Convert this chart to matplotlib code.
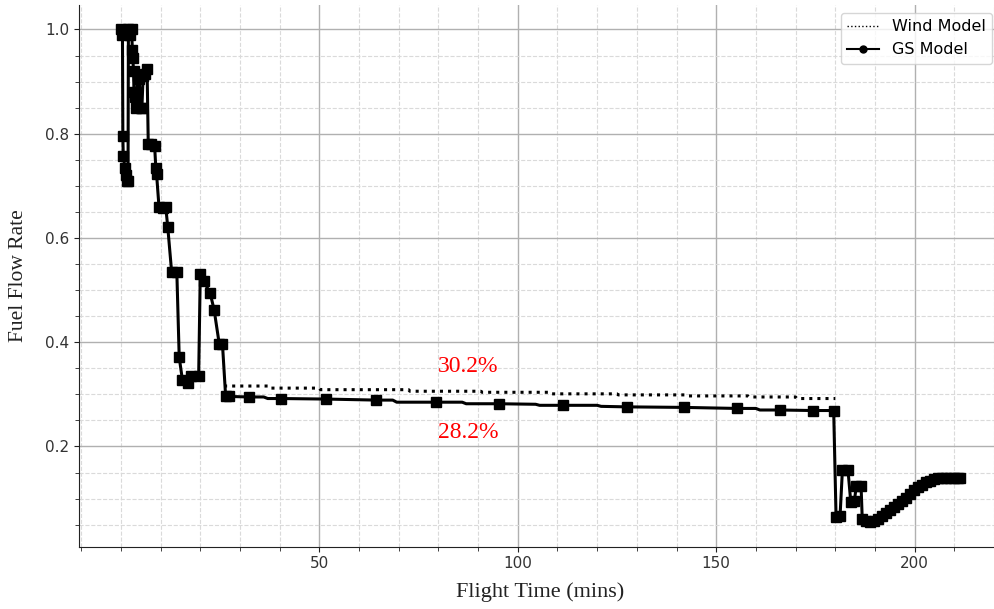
import matplotlib
matplotlib.use("Agg")
import matplotlib.pyplot as plt
from matplotlib.lines import Line2D
from matplotlib.ticker import MultipleLocator, FixedLocator

# ground-speed model: flight time (mins) vs normalised fuel flow
gs_time = [0.0, 0.4, 0.5, 0.6, 1.0, 1.3, 1.6, 1.8, 1.9, 2.4, 2.7, 2.9, 3.0, 3.2,
           3.3, 3.6, 3.8, 4.2, 4.6, 5.0, 5.3, 5.6, 6.0, 6.6, 6.9, 7.5, 8.5, 8.8,
           9.0, 9.6, 10.5, 11.3, 11.8, 12.8, 14.1, 14.7, 15.5, 16.8, 17.6, 19.6,
           20.0, 20.9, 22.5, 23.5, 24.8, 25.6, 26.4, 27.2,
           32.3, 36.0, 37.0, 40.4, 51.6, 64.4, 68.5, 69.5, 79.3, 86.0, 87.0,
           95.2, 104.5, 105.5, 111.4, 120.0, 121.0, 127.5, 141.8, 155.2, 160.0,
           161.0, 166.0, 174.3, 179.6,
           180.2, 181.2, 181.8, 183.2, 183.9, 184.8, 185.3, 186.5, 186.8, 187.8,
           188.8, 189.8, 190.8, 191.8, 192.8, 193.8, 194.8, 195.8, 196.8, 197.8,
           198.8, 199.8, 200.8, 201.8, 202.8, 203.8, 204.8, 205.8, 206.8, 207.8,
           208.8, 209.8, 210.8, 211.5]
gs_rate = [1.00, 0.99, 0.795, 0.757, 0.735, 0.72, 0.71, 0.71, 1.00, 0.99, 1.00,
           0.96, 0.945, 0.92, 0.88, 0.87, 0.85, 0.91, 0.905, 0.85, 0.85, 0.91,
           0.915, 0.925, 0.78, 0.78, 0.777, 0.735, 0.722, 0.66, 0.658, 0.66,
           0.622, 0.534, 0.534, 0.371, 0.328, 0.322, 0.336, 0.335, 0.53, 0.517,
           0.494, 0.462, 0.396, 0.396, 0.296, 0.296,
           0.295, 0.295, 0.292, 0.292, 0.291, 0.289, 0.289, 0.285, 0.285, 0.285,
           0.282, 0.282, 0.281, 0.279, 0.279, 0.279, 0.277, 0.276, 0.275, 0.273,
           0.273, 0.270, 0.270, 0.269, 0.269,
           0.065, 0.066, 0.155, 0.155, 0.094, 0.095, 0.124, 0.124, 0.060, 0.057,
           0.055, 0.057, 0.061, 0.066, 0.072, 0.078, 0.084, 0.090, 0.096, 0.102,
           0.109, 0.116, 0.122, 0.127, 0.131, 0.134, 0.137, 0.139, 0.140, 0.140,
           0.140, 0.140, 0.140, 0.140]
# cruise points that only shape the line (no square drawn)
gs_plain = [49, 50, 54, 55, 57, 58, 60, 61, 63, 64, 68, 69]

# wind model, only separates from the GS curve in cruise
wind_time = [26.0, 37.0, 37.3, 50.0, 50.3, 72.5, 72.8, 90.7, 91.0, 108.3,
             108.6, 125.0, 125.3, 142.0, 142.3, 158.0, 158.3, 170.0, 170.3, 180.0]
wind_rate = [0.316, 0.316, 0.312, 0.312, 0.309, 0.309, 0.306, 0.306, 0.304,
             0.304, 0.301, 0.301, 0.299, 0.299, 0.297, 0.297, 0.295, 0.295,
             0.292, 0.292]

fig = plt.figure(figsize=(9.95, 6.09), dpi=100)
ax = fig.add_axes([0.0794, 0.1023, 0.926, 0.8895])

marks = [i for i in range(len(gs_time)) if i not in gs_plain]
ax.plot(wind_time, wind_rate, color="black", linestyle=":", linewidth=2.2, zorder=3)
ax.plot(gs_time, gs_rate, color="black", linewidth=2.2, marker="s",
        markersize=7, markevery=marks, zorder=4)

ax.set_xlim(-10.55, 221.6)
ax.set_ylim(0.00775, 1.047)
ax.xaxis.set_major_locator(FixedLocator([50, 100, 150, 200]))
ax.xaxis.set_minor_locator(MultipleLocator(10))
ax.yaxis.set_major_locator(FixedLocator([0.2, 0.4, 0.6, 0.8, 1.0]))
ax.yaxis.set_minor_locator(MultipleLocator(0.05))

ax.grid(which="major", color="#b0b0b0", linewidth=1.0)
ax.grid(which="minor", color="#dadada", linestyle="--", linewidth=0.8)
ax.set_axisbelow(True)

for side in ("top", "right"):
    ax.spines[side].set_visible(False)
for side in ("left", "bottom"):
    ax.spines[side].set_color("#222222")
ax.tick_params(which="both", labelsize=11, colors="#222222", labelcolor="#333333")
ax.tick_params(which="minor", length=3)

serif = ["Liberation Serif", "DejaVu Serif"]
ax.set_xlabel("Flight Time (mins)", fontsize=16, family=serif, color="#222222",
              labelpad=8)
ax.set_ylabel("Fuel Flow Rate", fontsize=15.5, family=serif, color="#222222",
              labelpad=12)

ax.text(87.4, 0.353, "30.2%", color="red", fontsize=17, family=serif,
        ha="center", va="center")
ax.text(87.4, 0.226, "28.2%", color="red", fontsize=17, family=serif,
        ha="center", va="center")

handles = [Line2D([], [], color="black", linestyle=":", linewidth=1.0),
           Line2D([], [], color="black", linewidth=1.5, marker="o", markersize=5)]
ax.legend(handles, ["Wind Model", "GS Model"], loc="upper right", fontsize=11.5)

fig.savefig("out.png", dpi=100)
